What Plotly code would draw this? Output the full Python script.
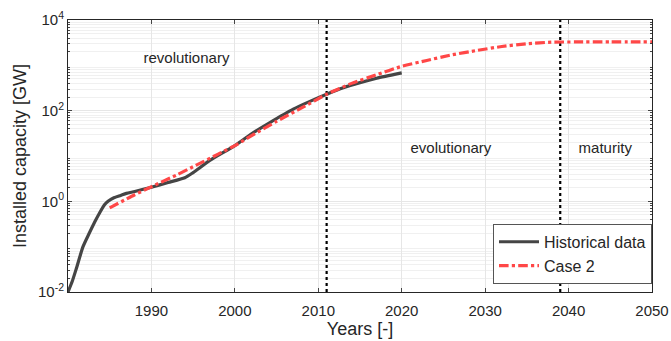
import plotly.graph_objects as go

# Historical data
hist_years = [1980, 1980.5, 1981, 1981.8, 1982.5, 1983.2, 1983.8, 1984.4, 1984.8, 1985.5, 1986.3,
              1987, 1988, 1990, 1992, 1994, 1995, 1997, 2000, 2002, 2004, 2007, 2009, 2011,
              2013, 2015, 2017, 2020]
hist_vals = [0.01, 0.017, 0.033, 0.1, 0.19, 0.35, 0.56, 0.85, 1.0, 1.2, 1.35,
             1.5, 1.65, 2.05, 2.6, 3.3, 4.3, 8, 17, 31, 52, 108, 160, 230,
             320, 415, 520, 680]

# Case 2 projection
case_years = [1985, 1988, 1990, 1993, 1995, 1998, 2000, 2003, 2005, 2008, 2011, 2014, 2017,
              2020, 2023, 2026, 2029, 2032, 2035, 2038, 2041, 2045, 2050]
case_vals = [0.72, 1.4, 2.1, 3.8, 5.8, 11, 17, 36, 58, 115, 230, 400, 620,
             950, 1280, 1700, 2130, 2600, 3000, 3240, 3280, 3280, 3280]

phase_boundaries = [2011, 2039]
phase_labels = ["revolutionary", "evolutionary", "maturity"]
phase_label_x = [1994.2, 2025.9, 2044.4]
phase_label_y = [1350, 14, 14]

x_ticks = [1990, 2000, 2010, 2020, 2030, 2040, 2050]
y_ticks = [0.01, 1, 100, 10000]
y_ticktext = ["10<sup>-2</sup>", "10<sup>0</sup>", "10<sup>2</sup>", "10<sup>4</sup>"]

font_family = "Liberation Sans, Arial, sans-serif"
txt_color = "#262626"

fig = go.Figure()

for xb in phase_boundaries:
    fig.add_trace(go.Scatter(x=[xb, xb], y=[0.01, 10000], mode="lines",
                             line=dict(color="black", width=2.2, dash="dot"),
                             showlegend=False, hoverinfo="skip"))

fig.add_trace(go.Scatter(x=hist_years, y=hist_vals, mode="lines", name="Historical data",
                         line=dict(color="#454545", width=3.2, shape="spline", smoothing=0.6)))
fig.add_trace(go.Scatter(x=case_years, y=case_vals, mode="lines", name="Case 2",
                         line=dict(color="#ff4747", width=3.2, dash="dashdot", shape="spline",
                                   smoothing=0.6)))

fig.add_trace(go.Scatter(x=phase_label_x, y=phase_label_y, mode="text", text=phase_labels,
                         textfont=dict(family=font_family, size=15, color=txt_color),
                         showlegend=False, hoverinfo="skip"))

fig.update_layout(
    width=671, height=341,
    margin=dict(l=68, r=19, t=20, b=49),
    paper_bgcolor="white", plot_bgcolor="white",
    font=dict(family=font_family, size=15, color=txt_color),
    legend=dict(x=1, y=0.03, xanchor="right", yanchor="bottom",
                bgcolor="white", bordercolor="#555555", borderwidth=1,
                font=dict(size=16, color=txt_color), tracegroupgap=0,
                itemwidth=40),
    showlegend=True,
)

fig.update_xaxes(range=[1980, 2050], tickvals=x_ticks, ticks="inside", ticklen=4,
                 showline=True, linecolor="#262626", linewidth=1, mirror="ticks",
                 showgrid=True, gridcolor="#e6e6e6", gridwidth=1, ticklabelstandoff=5,
                 title=dict(text="Years [-]", standoff=2), zeroline=False, automargin=False,
                 tickfont=dict(size=15))
fig.update_yaxes(type="log", range=[-2, 4], tickvals=y_ticks, ticktext=y_ticktext,
                 ticks="inside", ticklen=4, showline=True, linecolor="#262626", linewidth=1,
                 mirror="ticks", showgrid=True, gridcolor="#e6e6e6", gridwidth=1,
                 minor=dict(ticks="inside", ticklen=2, showgrid=True, gridcolor="#f0f0f0",
                            tickvals=[v * 10 ** e for e in range(-2, 4) for v in range(2, 10)]),
                 title=dict(text="Installed capacity [GW]", standoff=6), zeroline=False,
                 automargin=False, tickfont=dict(size=15))

fig.write_html("out.html")
